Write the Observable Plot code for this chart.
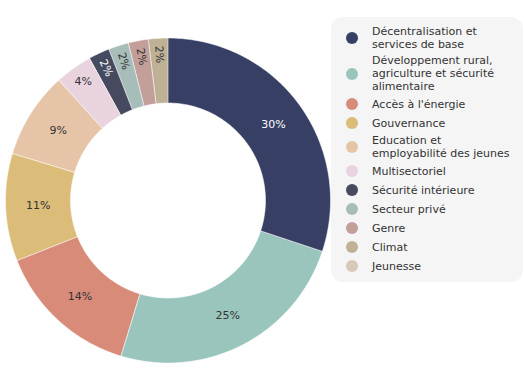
<!DOCTYPE html>
<html>
<head>
<meta charset="utf-8">
<script src="https://cdn.jsdelivr.net/npm/d3@7"></script>
<script src="https://cdn.jsdelivr.net/npm/@observablehq/plot@0.6"></script>
<style>
  html, body { margin: 0; padding: 0; background: #fff; }
  #wrap { position: relative; width: 524px; height: 385px; font-family: "DejaVu Sans", Verdana, sans-serif; }
  #chart { position: absolute; left: 0; top: 0; }
  #legend { position: absolute; left: 331px; top: 17px; width: 192px; height: 265px; background: #f5f5f5; border-radius: 12px; }
  .item { position: absolute; left: 0; width: 192px; }
  .dot { position: absolute; left: 15px; width: 12px; height: 12px; border-radius: 50%; }
  .lab { position: absolute; left: 41px; font-size: 11px; line-height: 13px; color: #333; white-space: pre; }
</style>
</head>
<body>
<div id="wrap">
  <div id="chart"></div>
  <div id="legend"></div>
</div>
<script>
const categories = [
  "Décentralisation et services de base",
  "Développement rural, agriculture et sécurité alimentaire",
  "Accès à l'énergie",
  "Gouvernance",
  "Education et employabilité des jeunes",
  "Multisectoriel",
  "Sécurité intérieure",
  "Secteur privé",
  "Genre",
  "Climat",
  "Jeunesse"
];
const legendLabels = [
  "Décentralisation et\nservices de base",
  "Développement rural,\nagriculture et sécurité\nalimentaire",
  "Accès à l'énergie",
  "Gouvernance",
  "Education et\nemployabilité des jeunes",
  "Multisectoriel",
  "Sécurité intérieure",
  "Secteur privé",
  "Genre",
  "Climat",
  "Jeunesse"
];
const values = [30.1, 24.6, 14.3, 10.7, 8.6, 3.7, 2.1, 2.0, 2.0, 1.9, 0];
const colors = ["#373f65", "#99c5bd", "#d98b7a", "#dbbc79", "#e6c4a7", "#e8d3de", "#454a5e", "#a7bdb9", "#c29f98", "#bfb196", "#d9c9b9"];

const INNER = 0.6;
const total = d3.sum(values);
const slices = [];
let acc = 0;
categories.forEach((c, i) => {
  const a0 = acc / total * 2 * Math.PI;
  acc += values[i];
  const a1 = acc / total * 2 * Math.PI;
  slices.push({cat: c, value: values[i], a0, a1, color: colors[i]});
});

// polygon points for each arc
const pts = [];
for (const s of slices) {
  if (s.value <= 0) continue;
  const n = Math.max(2, Math.ceil((s.a1 - s.a0) / (Math.PI / 180)));
  for (let k = 0; k <= n; k++) {
    const a = s.a0 + (s.a1 - s.a0) * k / n;
    pts.push({cat: s.cat, x: Math.sin(a), y: Math.cos(a)});
  }
  for (let k = n; k >= 0; k--) {
    const a = s.a0 + (s.a1 - s.a0) * k / n;
    pts.push({cat: s.cat, x: INNER * Math.sin(a), y: INNER * Math.cos(a)});
  }
}

const labels = slices.filter(s => s.value > 0).map(s => {
  const m = (s.a0 + s.a1) / 2;
  const small = s.value < 5;
  const r = small ? 0.9 : 0.8;
  const deg = m * 180 / Math.PI;
  return {
    x: r * Math.sin(m),
    y: r * Math.cos(m),
    text: Math.round(s.value) + "%",
    rotate: s.value < 3 ? deg - 270 : 0,
    fill: d3.lab(s.color).l < 45 ? "#ffffff" : "#333333"
  };
});

const plot = Plot.plot({
  width: 335,
  height: 385,
  margin: 0,
  style: {background: "transparent", fontFamily: "DejaVu Sans, Verdana, sans-serif"},
  x: {domain: [-1, 1], range: [5, 330], axis: null},
  y: {domain: [-1, 1], range: [362.5, 37.5], axis: null},
  color: {domain: categories, range: colors},
  marks: [
    Plot.line(pts, {x: "x", y: "y", z: "cat", fill: "cat", stroke: "white", strokeWidth: 0.5, curve: "linear-closed"}),
    Plot.text(labels, {x: "x", y: "y", text: "text", rotate: "rotate", fill: d => d.fill, fontSize: 11})
  ]
});
document.getElementById("chart").appendChild(plot);

// legend
const legend = document.getElementById("legend");
const lineH = 13, minH = 16, gap = 3;
let y = 8.3;
legendLabels.forEach((lab, i) => {
  const nLines = lab.split("\n").length;
  const textH = nLines * lineH;
  const h = Math.max(minH, textH);
  const item = document.createElement("div");
  item.className = "item";
  item.style.top = y + "px";
  item.style.height = h + "px";
  const dot = document.createElement("div");
  dot.className = "dot";
  dot.style.background = colors[i];
  dot.style.top = (h / 2 - 6) + "px";
  const t = document.createElement("div");
  t.className = "lab";
  t.style.top = ((h - textH) / 2) + "px";
  t.textContent = lab;
  item.appendChild(dot);
  item.appendChild(t);
  legend.appendChild(item);
  y += h + gap;
});
</script>
</body>
</html>
